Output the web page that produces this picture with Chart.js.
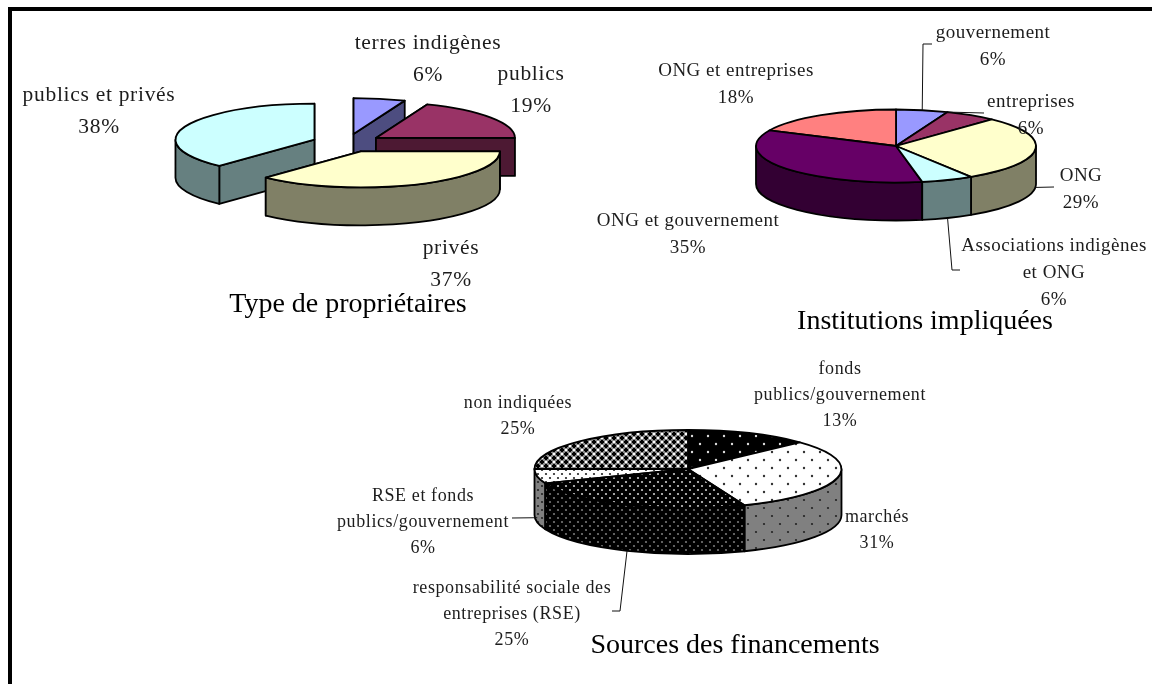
<!DOCTYPE html>
<html lang="fr">
<head>
<meta charset="utf-8">
<title>Projets - trois camemberts</title>
<script src="https://cdn.jsdelivr.net/npm/chart.js@4"></script>
<style>
  html, body { margin: 0; padding: 0; background: #fff; }
  #page { position: relative; width: 1152px; height: 684px; overflow: hidden; }
  #frame { position: absolute; left: 8px; top: 7px; right: -10px; bottom: -10px; border-top: 4px solid #000; border-left: 4px solid #000; }
  canvas { position: absolute; left: 0; top: 0; }
</style>
</head>
<body>
<div id="page">
  <div id="frame"></div>
  <canvas id="proprietaires" width="1152" height="684"></canvas>
  <canvas id="institutions" width="1152" height="684"></canvas>
  <canvas id="sources" width="1152" height="684"></canvas>
</div>
<script>
// Type de propriétaires
const title1 = "Type de propriétaires";
const labels1 = ["terres indigènes", "publics", "privés", "publics et privés"];
const values1 = [6, 19, 37, 38];

// Institutions impliquées
const title2 = "Institutions impliquées";
const labels2 = ["gouvernement", "entreprises", "ONG", "Associations indigènes\net ONG", "ONG et gouvernement", "ONG et entreprises"];
const values2 = [6, 6, 29, 6, 35, 18];

// Sources des financements
const title3 = "Sources des financements";
const labels3 = ["fonds\npublics/gouvernement", "marchés", "responsabilité sociale des\nentreprises (RSE)", "RSE et fonds\npublics/gouvernement", "non indiquées"];
const values3 = [13, 31, 25, 6, 25];

const fills1 = ["#9999ff", "#993366", "#ffffcc", "#ccffff"];
const sides1 = ["#4d4d80", "#4d1933", "#808066", "#668080"];
const fills2 = ["#9999ff", "#993366", "#ffffcc", "#ccffff", "#660066", "#ff8080"];
const sides2 = ["#4d4d80", "#4d1933", "#808066", "#668080", "#330033", "#804040"];

// label spots, first line of each label (center x, baseline-middle y)
const spots1 = [[428, 43], [531, 74], [451, 248], [99, 95]];
const spots2 = [[993, 33], [1031, 102], [1081, 176], [1054, 246], [688, 221], [736, 71]];
const spots3 = [[840, 369], [877, 517], [512, 588], [423, 496], [518, 403]];

function dots(bg, fg, size, r) {
  const c = document.createElement("canvas");
  c.width = c.height = size;
  const g = c.getContext("2d");
  g.fillStyle = bg;
  g.fillRect(0, 0, size, size);
  g.fillStyle = fg;
  [[size / 4, size / 4], [size * 3 / 4, size * 3 / 4]].forEach(function(p) {
    g.beginPath();
    g.arc(p[0], p[1], r, 0, Math.PI * 2);
    g.fill();
  });
  return g.createPattern(c, "repeat");
}

// the grey weave on "non indiquées"
function weave() {
  const c = document.createElement("canvas");
  c.width = c.height = 8;
  const g = c.getContext("2d");
  g.fillStyle = "#8c8c8c";
  g.fillRect(0, 0, 8, 8);
  g.fillStyle = "#000";
  g.fillRect(1, 0, 2, 4); g.fillRect(0, 1, 4, 2);
  g.fillRect(5, 4, 2, 4); g.fillRect(4, 5, 4, 2);
  g.fillStyle = "#fff";
  g.fillRect(5, 1, 2, 2); g.fillRect(1, 5, 2, 2);
  return g.createPattern(c, "repeat");
}

const fills3 = [dots("#000", "#ddd", 16, 1.2), dots("#fff", "#333", 16, 1.2), dots("#000", "#ccc", 8, 1.1), dots("#fff", "#222", 8, 1.1), weave()];
const sides3 = [dots("#000", "#888", 16, 1.2), dots("#808080", "#222", 16, 1.1), dots("#000", "#777", 8, 1.1), dots("#808080", "#222", 8, 1.1), weave()];

// canvas plugin: flattens the pie library arcs into an extruded ellipse
function pie3d(cfg) {
  function apex(arc, mid) {
    const k = cfg.ry / arc.outerRadius;
    return {
      x: arc.x + Math.cos(mid) * cfg.explode,
      y: arc.y + Math.sin(mid) * cfg.explode * k
    };
  }

  function drawWall(ctx, a, rx, ry, angle, color) {
    const ex = a.x + Math.cos(angle) * rx, ey = a.y + Math.sin(angle) * ry;
    ctx.beginPath();
    ctx.moveTo(a.x, a.y);
    ctx.lineTo(ex, ey);
    ctx.lineTo(ex, ey + cfg.depth);
    ctx.lineTo(a.x, a.y + cfg.depth);
    ctx.closePath();
    ctx.fillStyle = color;
    ctx.fill();
    ctx.stroke();
  }

  return {
    id: "pie3d",
    beforeDatasetsDraw(chart) {
      const ctx = chart.ctx;
      const arcs = chart.getDatasetMeta(0).data;
      const order = arcs.map((a, i) => i).sort(function(i, j) {
        const mi = (arcs[i].startAngle + arcs[i].endAngle) / 2;
        const mj = (arcs[j].startAngle + arcs[j].endAngle) / 2;
        return Math.sin(mi) - Math.sin(mj);
      });

      ctx.save();
      ctx.lineWidth = 1.8;
      ctx.strokeStyle = "#000";
      ctx.lineJoin = "round";
      order.forEach(function(i) {
        const arc = arcs[i];
        const rx = arc.outerRadius, ry = cfg.ry;
        const mid = (arc.startAngle + arc.endAngle) / 2;
        const a = apex(arc, mid);

        // straight walls only show when the slices are pulled apart
        if (cfg.explode > 0) {
          const walls = [arc.startAngle, arc.endAngle].sort((p, q) => Math.sin(p) - Math.sin(q));
          walls.forEach(w => drawWall(ctx, a, rx, ry, w, cfg.sides[i]));
        }

        // curved wall, only the front half of the rim
        const from = Math.max(arc.startAngle, 0), to = Math.min(arc.endAngle, Math.PI);
        if (from < to) {
          ctx.beginPath();
          ctx.ellipse(a.x, a.y, rx, ry, 0, from, to);
          ctx.ellipse(a.x, a.y + cfg.depth, rx, ry, 0, to, from, true);
          ctx.closePath();
          ctx.fillStyle = cfg.sides[i];
          ctx.fill();
          ctx.stroke();
        }

        // top face
        ctx.beginPath();
        ctx.moveTo(a.x, a.y);
        ctx.ellipse(a.x, a.y, rx, ry, 0, arc.startAngle, arc.endAngle);
        ctx.closePath();
        ctx.fillStyle = arc.options.backgroundColor;
        ctx.fill();
        ctx.stroke();
      });
      ctx.restore();
      return false;
    },
    afterDraw(chart) {
      const ctx = chart.ctx;
      const arcs = chart.getDatasetMeta(0).data;
      ctx.save();

      // leader lines start on the slice rim
      ctx.strokeStyle = "#111";
      ctx.lineWidth = 1;
      (cfg.leaders || []).forEach(function(l) {
        const arc = arcs[l.slice];
        const f = l.frac === undefined ? 0.5 : l.frac;
        const t = arc.startAngle + (arc.endAngle - arc.startAngle) * f;
        ctx.beginPath();
        ctx.moveTo(arc.x + Math.cos(t) * arc.outerRadius, arc.y + Math.sin(t) * cfg.ry + cfg.depth * (l.wall || 0));
        l.path.forEach(p => ctx.lineTo(p[0], p[1]));
        ctx.stroke();
      });

      // labels
      ctx.textAlign = "center";
      ctx.textBaseline = "middle";
      ctx.fillStyle = "#1c1c1c";
      ctx.font = cfg.labelFont;
      ctx.letterSpacing = cfg.labelSpacing;
      chart.data.labels.forEach(function(label, i) {
        const lines = label.split("\n").concat(chart.data.datasets[0].data[i] + "%");
        lines.forEach(function(line, n) {
          ctx.fillText(line, cfg.spots[i][0], cfg.spots[i][1] + n * cfg.lineGap);
        });
      });

      // title
      ctx.letterSpacing = "0px";
      ctx.fillStyle = "#000";
      ctx.font = cfg.titleFont;
      ctx.fillText(cfg.title, cfg.titleAt[0], cfg.titleAt[1]);
      ctx.restore();
    }
  };
}

function makePie(id, labels, values, fills, cfg) {
  const W = 1152, H = 684;
  return new Chart(document.getElementById(id), {
    type: "pie",
    data: {
      labels: labels,
      datasets: [{ data: values, backgroundColor: fills, radius: cfg.rx }]
    },
    options: {
      responsive: false,
      animation: false,
      events: [],
      layout: {
        padding: {
          left: Math.max(0, 2 * cfg.cx - W),
          right: Math.max(0, W - 2 * cfg.cx),
          top: Math.max(0, 2 * cfg.cy - H),
          bottom: Math.max(0, H - 2 * cfg.cy)
        }
      },
      plugins: { legend: { display: false }, tooltip: { enabled: false } }
    },
    plugins: [pie3d(cfg)]
  });
}

makePie("proprietaires", labels1, values1, fills1, {
  cx: 347, cy: 143, rx: 139, ry: 36, depth: 38, explode: 35,
  sides: sides1, spots: spots1, lineGap: 32,
  labelFont: "21.5px 'Liberation Serif'", labelSpacing: "0.7px", titleFont: "28px 'Liberation Serif'",
  title: title1, titleAt: [348, 305]
});

makePie("institutions", labels2, values2, fills2, {
  cx: 896, cy: 146, rx: 140, ry: 36.5, depth: 38, explode: 0,
  sides: sides2, spots: spots2, lineGap: 27,
  labelFont: "19px 'Liberation Serif'", labelSpacing: "0.5px", titleFont: "28px 'Liberation Serif'",
  title: title2, titleAt: [925, 322],
  leaders: [
    { slice: 0, path: [[923, 44], [932, 44]] },
    { slice: 1, frac: 0, path: [[984, 113]] },
    { slice: 2, wall: 1, path: [[1054, 187]] },
    { slice: 3, wall: 1, path: [[952, 270], [960, 270]] }
  ]
});

makePie("sources", labels3, values3, fills3, {
  cx: 688, cy: 469, rx: 153.5, ry: 39, depth: 46, explode: 0,
  sides: sides3, spots: spots3, lineGap: 26,
  labelFont: "18px 'Liberation Serif'", labelSpacing: "0.6px", titleFont: "28px 'Liberation Serif'",
  title: title3, titleAt: [735, 646],
  leaders: [
    { slice: 3, wall: 0.9, path: [[512, 518]] },
    { slice: 2, wall: 1, path: [[620, 611], [612, 611]] }
  ]
});
</script>
</body>
</html>
